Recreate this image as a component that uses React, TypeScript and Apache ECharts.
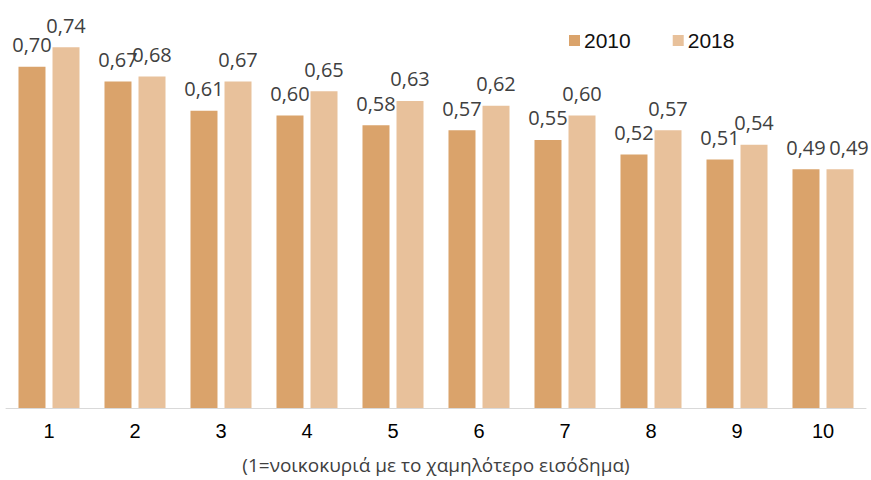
import React, { useEffect, useRef } from "react";
import * as echarts from "echarts";

const categories = ["1", "2", "3", "4", "5", "6", "7", "8", "9", "10"];
const values2010 = [0.70, 0.67, 0.61, 0.60, 0.58, 0.57, 0.55, 0.52, 0.51, 0.49];
const values2018 = [0.74, 0.68, 0.67, 0.65, 0.63, 0.62, 0.60, 0.57, 0.54, 0.49];
const seriesNames = ["2010", "2018"];
const axisTitle = "(1=νοικοκυριά με το χαμηλότερο εισόδημα)";

const COLOR_2010 = "#DAA36B";
const COLOR_2018 = "#E8C19B";

export default function App() {
  const ref = useRef<HTMLDivElement>(null);
  useEffect(() => {
    if (!ref.current) return;
    const chart = echarts.init(ref.current, null, { renderer: "svg" });
    const labelStyle = {
      show: true,
      position: "top" as const,
      distance: 12,
      fontFamily: "Open Sans",
      fontSize: 20,
      color: "#404040",
      formatter: (p: any) => Number(p.value).toFixed(2).replace(".", ","),
    };
    const data2018 = values2018.map((v, i) =>
      i === values2018.length - 1 ? { value: v, label: { offset: [9, 0] } } : v
    );
    chart.setOption({
      animation: false,
      backgroundColor: "#ffffff",
      grid: { left: 6, right: 5, top: 18, bottom: 72, containLabel: false },
      legend: {
        data: seriesNames,
        left: 564,
        top: 25,
        icon: "rect",
        itemWidth: 11,
        itemHeight: 11,
        itemGap: 42,
        textStyle: {
          fontFamily: "Liberation Sans",
          fontSize: 21,
          color: "#111111",
          padding: [0, 0, 0, -1],
        },
      },
      xAxis: {
        type: "category",
        data: categories,
        axisLine: { show: true, lineStyle: { color: "#d9d9d9", width: 1 } },
        axisTick: { show: false },
        axisLabel: {
          fontFamily: "Liberation Sans",
          fontSize: 20,
          color: "#000000",
          margin: 13,
        },
        name: axisTitle,
        nameLocation: "middle",
        nameGap: 47,
        nameTextStyle: {
          fontFamily: "Open Sans",
          fontSize: 19,
          color: "#404040",
        },
      },
      yAxis: {
        type: "value",
        min: 0,
        max: 0.8,
        show: false,
        splitLine: { show: false },
      },
      series: [
        {
          name: seriesNames[0],
          type: "bar",
          data: values2010,
          itemStyle: { color: COLOR_2010 },
          barWidth: 27,
          barGap: "26%",
          label: labelStyle,
        },
        {
          name: seriesNames[1],
          type: "bar",
          data: data2018,
          itemStyle: { color: COLOR_2018 },
          barWidth: 27,
          barGap: "26%",
          label: labelStyle,
        },
      ],
    });
    return () => chart.dispose();
  }, []);
  return (
    <div
      ref={ref}
      style={{ position: "absolute", left: 0, top: 0, width: 871, height: 480 }}
    />
  );
}
